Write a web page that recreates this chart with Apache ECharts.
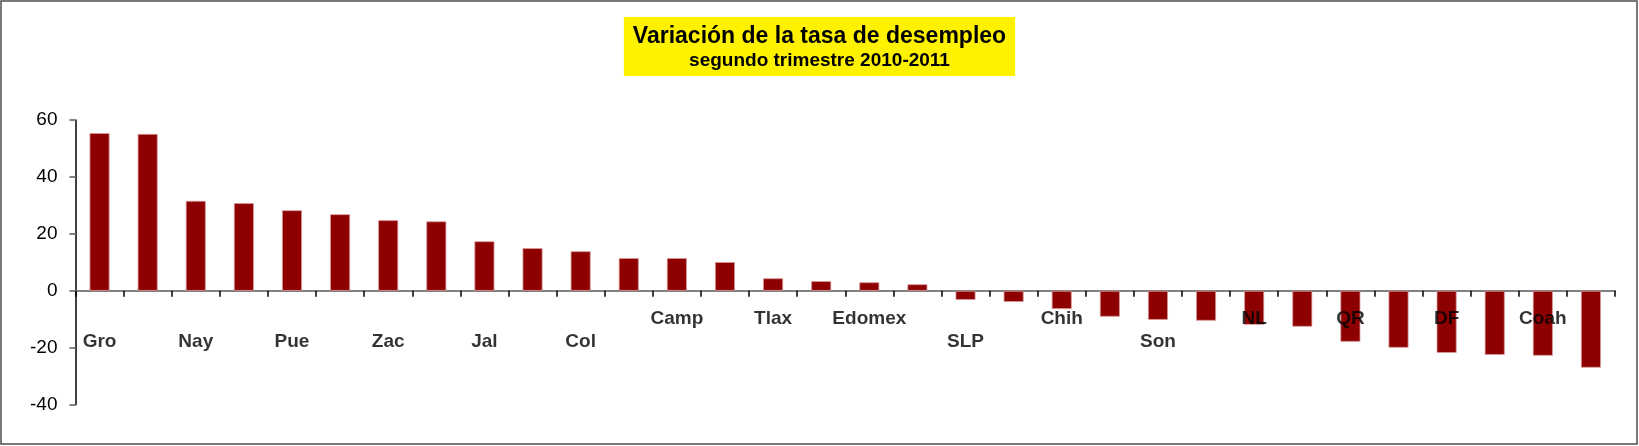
<!DOCTYPE html>
<html>
<head>
<meta charset="utf-8">
<title>Variación de la tasa de desempleo</title>
<script src="https://cdn.jsdelivr.net/npm/echarts@6/dist/echarts.min.js"></script>
<style>
    html, body { margin: 0; padding: 0; background: #fff; }
    #container { width: 1639px; height: 446px; }
</style>
</head>
<body>
<div id="container"></div>
<script>
// estados (solo se rotulan los impares, como en el original)
var states = ['Gro', '', 'Nay', '', 'Pue', '', 'Zac', '', 'Jal', '', 'Col', '',
    'Camp', '', 'Tlax', '', 'Edomex', '', 'SLP', '', 'Chih', '', 'Son', '',
    'NL', '', 'QR', '', 'DF', '', 'Coah', ''];

// variación de la tasa de desempleo (%)
var variation = [55.4, 55.1, 31.6, 30.8, 28.3, 26.9, 24.8, 24.4, 17.4, 15.0, 13.9, 11.5,
    11.5, 10.1, 4.4, 3.4, 3.0, 2.3, -3.2, -3.9, -6.4, -9.1, -10.2, -10.5,
    -11.9, -12.6, -17.9, -20.0, -21.8, -22.5, -22.8, -27.0];

// rótulos que van en la fila de abajo
var lowerRow = ['Gro', 'Nay', 'Pue', 'Zac', 'Jal', 'Col', 'SLP', 'Son'];

var yTicks = [-40, -20, 0, 20, 40, 60];

var charts;
var FONT = "'Liberation Sans', Arial, sans-serif";

function getECharts() {
    if (charts != undefined) {
        return charts;
    }
    charts = echarts.init(document.getElementById('container'), null, { renderer: 'canvas' });
    return charts;
}

/*
 * los rótulos de categoría cuelgan de la línea del cero,
 * se anclan con un scatter invisible sobre y = 0
 */
function stateLabelData() {
    var out = [];
    for (var i = 0; i < states.length; i++) {
        if (states[i]) {
            out.push({ value: [i, 0], name: states[i] });
        }
    }
    return out;
}

function buildOption() {
    return {
        animation: false,
        backgroundColor: '#fff',
        title: {
            text: 'Variación de la tasa de desempleo',
            subtext: 'segundo trimestre 2010-2011',
            left: 'center',
            top: 17,
            backgroundColor: '#fff200',
            padding: [7, 9, 5, 9],
            itemGap: 0,
            textStyle: { fontFamily: FONT, fontSize: 23, fontWeight: 'bold', color: '#000', lineHeight: 26 },
            subtextStyle: { fontFamily: FONT, fontSize: 19, fontWeight: 'bold', color: '#000', lineHeight: 21 }
        },
        graphic: [{
            type: 'rect',
            silent: true,
            shape: { x: 1, y: 1, width: 1636, height: 443 },
            style: { fill: 'none', stroke: '#4d4d4d', lineWidth: 1.5 }
        }],
        grid: { left: 75.5, right: 24, top: 120, bottom: 41.3, containLabel: false, outerBoundsMode: 'none' },
        xAxis: {
            type: 'category',
            data: states,
            axisLine: { onZero: true, lineStyle: { color: '#808080', width: 2 } },
            axisTick: { show: true, interval: 0, length: 6, lineStyle: { color: '#000', width: 1.5 } },
            axisLabel: { show: false },
            splitLine: { show: false }
        },
        yAxis: {
            type: 'value',
            min: yTicks[0],
            max: yTicks[yTicks.length - 1],
            interval: 20,
            axisLine: { show: true, lineStyle: { color: '#000', width: 1.5 } },
            axisTick: { show: true, length: 6, lineStyle: { color: '#808080', width: 2 } },
            axisLabel: { margin: 18, fontFamily: FONT, fontSize: 19, color: '#000' },
            splitLine: { show: false }
        },
        series: [{
            type: 'bar',
            data: variation,
            barWidth: 20,
            itemStyle: { color: '#8e0000', borderColor: '#d99a9a', borderWidth: 0.8 }
        }, {
            type: 'scatter',
            data: stateLabelData(),
            symbolSize: 0,
            silent: true,
            z: 5,
            label: {
                show: true,
                position: 'bottom',
                distance: 18,
                formatter: function (p) {
                    return lowerRow.indexOf(p.name) >= 0 ? '{lo|' + p.name + '}' : '{hi|' + p.name + '}';
                },
                rich: {
                    hi: { fontFamily: FONT, fontSize: 19, fontWeight: 'bold', color: '#000' },
                    lo: { fontFamily: FONT, fontSize: 19, fontWeight: 'bold', color: '#000', padding: [23, 0, 0, 0] }
                }
            }
        }]
    };
}

getECharts().setOption(buildOption(), true);
</script>
</body>
</html>
